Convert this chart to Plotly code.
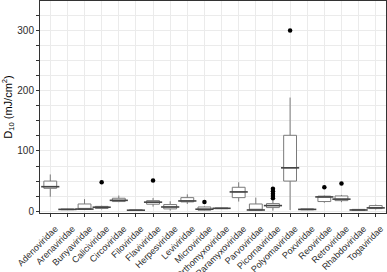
import plotly.graph_objects as go

families = ["Adenoviridae", "Arenaviridae", "Bunyaviridae", "Caliciviridae", "Circoviridae",
            "Filoviridae", "Flaviviridae", "Herpesviridae", "Leviviridae", "Microviridae",
            "Orthomyxoviridae", "Paramyxoviridae", "Parvoviridae", "Picornaviridae",
            "Polyomaviridae", "Poxviridae", "Reoviridae", "Retroviridae", "Rhabdoviridae",
            "Togaviridae"]
lower_whisker = [24, 2, 2, 3, 15, 1, 7.6, 1, 12, 1, 4, 16, 0.5, 1, 2, 2, 14, 15, 1.2, 3]
q1 =            [38, 2.5, 3, 4.5, 16, 1.2, 11.6, 3.8, 15.4, 1.6, 4.2, 22.5, 1.6, 6, 50, 2.3, 16, 17.5, 1.5, 4.3]
median =        [40.7, 3, 3.5, 6.6, 18, 1.6, 15, 7, 17, 3.3, 4.8, 32, 2, 9.3, 72, 3, 23.7, 20, 2, 5.5]
q3 =            [50, 3.5, 12, 8, 21.5, 2.2, 17.5, 11, 22.5, 7, 5.3, 39.7, 12, 12.6, 126, 3.8, 25, 25.3, 3, 9.3]
upper_whisker = [61, 4, 20, 9, 26, 2.5, 22, 16.5, 28, 8, 5.5, 48, 22.5, 18, 188.7, 4, 26, 27, 3.2, 11]

outlier_family = ["Caliciviridae", "Flaviviridae", "Microviridae",
                  "Picornaviridae", "Picornaviridae", "Picornaviridae", "Picornaviridae", "Picornaviridae",
                  "Polyomaviridae", "Reoviridae", "Retroviridae"]
outlier_value = [48, 51, 15.4, 37.4, 33, 29, 25.3, 21.5, 300, 39.7, 46]

fig = go.Figure()
fig.add_trace(go.Box(
    x=families, q1=q1, median=median, q3=q3,
    lowerfence=lower_whisker, upperfence=upper_whisker,
    boxpoints=False, width=0.75, whiskerwidth=0,
    fillcolor="white", line=dict(color="#7a7a7a", width=1),
    showlegend=False, hoverinfo="skip",
))
fig.add_trace(go.Scatter(
    x=families, y=median, mode="markers",
    marker=dict(symbol="line-ew", size=13, line=dict(width=1.6, color="#444444")),
    showlegend=False, hoverinfo="skip",
))
fig.add_trace(go.Scatter(
    x=outlier_family, y=outlier_value, mode="markers",
    marker=dict(color="black", size=4.5),
    showlegend=False,
))

axis_common = dict(
    showline=True, linecolor="#333333", linewidth=1, mirror=True,
    ticks="outside", ticklen=3, tickcolor="#333333", tickwidth=1,
    showgrid=True, gridcolor="#ebebeb", gridwidth=1, zeroline=False,
    automargin=False,
    tickfont=dict(family="Liberation Sans, Arial", size=10, color="#2b2b2b"),
)

fig.update_layout(
    width=387, height=272,
    margin=dict(l=40, r=1, t=1, b=59),
    paper_bgcolor="white", plot_bgcolor="white",
    xaxis=dict(**axis_common, categoryorder="array", categoryarray=families,
               tickangle=-45, range=[-0.6, 19.6],
               ticklabelshift=5, ticklabelstandoff=3),
    yaxis=dict(**axis_common, tickmode="linear", tick0=0, dtick=100,
               minor=dict(dtick=25, ticks="outside", ticklen=3, tickcolor="#333333",
                          showgrid=True, gridcolor="#ebebeb", gridwidth=1),
               range=[-3, 349],
               title=dict(text="D<sub>10</sub> (mJ/cm<sup>2</sup>)",
                          font=dict(family="Liberation Sans, Arial", size=11, color="black"),
                          standoff=4)),
)
fig.update_xaxes(tickfont=dict(size=9))

fig.write_html("out.html", config={"displayModeBar": False},
               post_script="document.body.style.margin='0';document.body.style.padding='0';")
